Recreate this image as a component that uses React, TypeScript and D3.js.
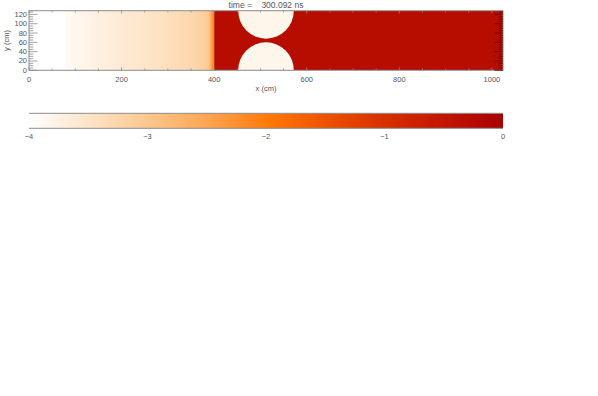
import { useEffect, useRef } from 'react';
import * as d3 from 'd3';

// colour table: log10 value -> colour
const cmapValues = [-4, -3.5, -3, -2.5, -2, -1.5, -1, -0.5, 0];
const cmapColors = ['#ffffff', '#fde4c8', '#fcc78e', '#fca552', '#ff7b0a', '#ee5200', '#d63000', '#c21500', '#a80000'];

// field along x (left of the interface), log10 values
const profileX = [0, 78, 80, 120, 160, 200, 240, 280, 320, 360, 380, 388, 393, 397, 400];
const profileLog = [-4, -4, -3.9, -3.8, -3.7, -3.62, -3.54, -3.46, -3.36, -3.24, -3.12, -3.02, -2.6, -2.2, -2.1];

const interfaceX = 400;
const dense = -0.28; // log value right of the interface
const bubbleLog = -3.82;
const bubbleX = [512, 512];
const bubbleY = [0, 128];
const bubbleR = [60, 60];

const xDomain = [0, 1024];
const yDomain = [0, 128];
const xTicks = [0, 200, 400, 600, 800, 1000];
const yTicks = [0, 20, 40, 60, 80, 100, 120];
const cbTicks = [-4, -3, -2, -1, 0];
const title = 'time =    300.092 ns';

export default function App() {
  const svgRef = useRef<SVGSVGElement>(null);

  useEffect(() => {
    if (!svgRef.current) return;
    const W = 598;
    const H = 396;
    const plot = { left: 29, right: 503, top: 10.7, bottom: 70.3 };
    const cb = { top: 113.3, bottom: 128.3 };
    const axisCol = '#8c8c8c';
    const textCol = '#555';
    const font = 'Helvetica, Arial, "Liberation Sans", sans-serif';

    const svg = d3.select(svgRef.current).attr('width', W).attr('height', H);
    svg.selectAll('*').remove();

    const x = d3.scaleLinear().domain(xDomain).range([plot.left, plot.right]);
    const y = d3.scaleLinear().domain(yDomain).range([plot.bottom, plot.top]);
    const color = d3.scaleLinear<string>().domain(cmapValues).range(cmapColors).interpolate(d3.interpolateRgb);

    const defs = svg.append('defs');
    defs.append('clipPath').attr('id', 'plotclip')
      .append('rect')
      .attr('x', plot.left).attr('y', plot.top)
      .attr('width', plot.right - plot.left).attr('height', plot.bottom - plot.top);

    // field gradient left of the interface
    const fg = defs.append('linearGradient').attr('id', 'fieldgrad')
      .attr('gradientUnits', 'userSpaceOnUse')
      .attr('x1', x(0)).attr('x2', x(interfaceX)).attr('y1', 0).attr('y2', 0);
    profileX.forEach((px, i) => {
      fg.append('stop').attr('offset', px / interfaceX).attr('stop-color', color(profileLog[i]));
    });

    const g = svg.append('g').attr('clip-path', 'url(#plotclip)');
    g.append('rect')
      .attr('x', x(0)).attr('y', y(yDomain[1]))
      .attr('width', x(interfaceX) - x(0)).attr('height', y(0) - y(yDomain[1]))
      .attr('fill', 'url(#fieldgrad)');
    g.append('rect')
      .attr('x', x(interfaceX)).attr('y', y(yDomain[1]))
      .attr('width', x(xDomain[1]) - x(interfaceX)).attr('height', y(0) - y(yDomain[1]))
      .attr('fill', color(dense));
    g.selectAll('ellipse.bub')
      .data(bubbleX.map((bx, i) => ({ bx, by: bubbleY[i], r: bubbleR[i] })))
      .join('ellipse')
      .attr('class', 'bub')
      .attr('cx', (d) => x(d.bx))
      .attr('cy', (d) => y(d.by))
      .attr('rx', (d) => x(d.r) - x(0))
      .attr('ry', (d) => y(0) - y(d.r))
      .attr('fill', color(bubbleLog));

    // axes box
    svg.append('rect')
      .attr('x', plot.left).attr('y', plot.top)
      .attr('width', plot.right - plot.left).attr('height', plot.bottom - plot.top)
      .attr('fill', 'none').attr('stroke', axisCol).attr('stroke-width', 1);

    const pw = plot.right - plot.left;
    const ph = plot.bottom - plot.top;
    const xMinor = d3.range(0, 1025, 50);
    const yMinor = d3.range(0, 129, 5);
    const yMajLen = 0.018 * pw;
    const xMajLen = 0.03 * ph;

    // x ticks (bottom + top, inward)
    xMinor.forEach((v) => {
      const len = v % 200 === 0 ? xMajLen * 1.6 : xMajLen;
      svg.append('line').attr('x1', x(v)).attr('x2', x(v)).attr('y1', plot.bottom).attr('y2', plot.bottom - len)
        .attr('stroke', axisCol).attr('stroke-width', 0.8);
      svg.append('line').attr('x1', x(v)).attr('x2', x(v)).attr('y1', plot.top).attr('y2', plot.top + len)
        .attr('stroke', axisCol).attr('stroke-width', 0.8);
    });
    // y ticks (left + right, inward)
    yMinor.forEach((v) => {
      const len = v % 20 === 0 ? yMajLen : yMajLen / 2;
      svg.append('line').attr('x1', plot.left).attr('x2', plot.left + len).attr('y1', y(v)).attr('y2', y(v))
        .attr('stroke', axisCol).attr('stroke-width', 0.8);
      svg.append('line').attr('x1', plot.right).attr('x2', plot.right - len).attr('y1', y(v)).attr('y2', y(v))
        .attr('stroke', '#5a0a00').attr('stroke-width', 0.8);
    });

    svg.selectAll('text.xt').data(xTicks).join('text')
      .attr('class', 'xt')
      .attr('x', (d) => x(d)).attr('y', 82)
      .attr('text-anchor', 'middle').attr('font-size', 7.5).attr('font-family', font).attr('fill', textCol)
      .text((d) => d);
    svg.selectAll('text.yt').data(yTicks).join('text')
      .attr('class', 'yt')
      .attr('x', plot.left - 2).attr('y', (d) => y(d) + 2.5)
      .attr('text-anchor', 'end').attr('font-size', 7.5).attr('font-family', font).attr('fill', textCol)
      .text((d) => d);

    svg.append('text').attr('x', (plot.left + plot.right) / 2).attr('y', 91)
      .attr('text-anchor', 'middle').attr('font-size', 7.5).attr('font-family', font).attr('fill', textCol)
      .text('x (cm)');
    svg.append('text').attr('transform', `translate(9,${(plot.top + plot.bottom) / 2}) rotate(-90)`)
      .attr('text-anchor', 'middle').attr('font-size', 7.5).attr('font-family', font).attr('fill', textCol)
      .text('y (cm)');
    svg.append('text').attr('x', (plot.left + plot.right) / 2).attr('y', 8)
      .attr('text-anchor', 'middle').attr('font-size', 8.5).attr('font-family', font).attr('fill', textCol)
      .attr('xml:space', 'preserve').style('white-space', 'pre')
      .text(title);

    // colour bar
    const cx = d3.scaleLinear().domain([cbTicks[0], cbTicks[cbTicks.length - 1]]).range([plot.left, plot.right]);
    const cg = defs.append('linearGradient').attr('id', 'cbgrad')
      .attr('gradientUnits', 'userSpaceOnUse')
      .attr('x1', cx(-4)).attr('x2', cx(0)).attr('y1', 0).attr('y2', 0);
    cmapValues.forEach((v, i) => {
      cg.append('stop').attr('offset', (v + 4) / 4).attr('stop-color', cmapColors[i]);
    });
    svg.append('rect')
      .attr('x', cx(-4)).attr('y', cb.top).attr('width', cx(0) - cx(-4)).attr('height', cb.bottom - cb.top)
      .attr('fill', 'url(#cbgrad)');
    [cb.top, cb.bottom].forEach((yy) => {
      svg.append('line').attr('x1', cx(-4)).attr('x2', cx(0)).attr('y1', yy).attr('y2', yy)
        .attr('stroke', axisCol).attr('stroke-width', 1);
    });
    svg.selectAll('text.ct').data(cbTicks).join('text')
      .attr('class', 'ct')
      .attr('x', (d) => cx(d)).attr('y', 139)
      .attr('text-anchor', 'middle').attr('font-size', 7.5).attr('font-family', font).attr('fill', textCol)
      .text((d) => (d < 0 ? '\u2212' + Math.abs(d) : String(d)));
  }, []);

  return <svg ref={svgRef} style={{ position: 'fixed', left: 0, top: 0, display: 'block', background: '#fff' }} />;
}
